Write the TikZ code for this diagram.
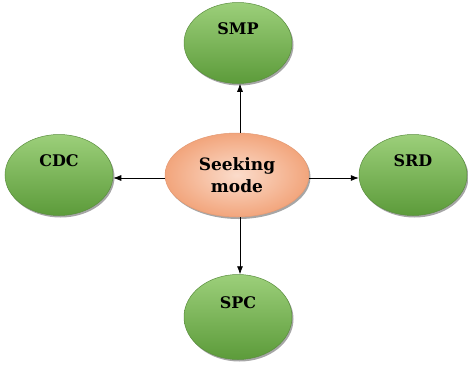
\documentclass[tikz,border=0pt]{standalone}
\usepackage{fontspec}
\setmainfont{DejaVu Serif}
\usetikzlibrary{shapes.geometric,shadows,arrows.meta}
\definecolor{gtop}{HTML}{9CCF7A}
\definecolor{gbot}{HTML}{5C9B3A}
\definecolor{gline}{HTML}{5A8E3E}
\definecolor{pin}{HTML}{FBDCCB}
\definecolor{pout}{HTML}{F2A57C}
\definecolor{pline}{HTML}{E39A74}
\tikzset{
  leaf/.style={ellipse, draw=gline, line width=0.5pt, top color=gtop, bottom color=gbot,
    minimum width=108pt, minimum height=81pt, inner sep=0pt,
    font=\bfseries\fontsize{16}{19}\selectfont, text depth=28pt,
    drop shadow={shadow xshift=1.5pt, shadow yshift=-2pt, opacity=0.35, fill=black}},
  hub/.style={ellipse, draw=pline, line width=0.5pt, inner color=pin, outer color=pout,
    minimum width=144pt, minimum height=84pt, inner sep=0pt, align=center,
    font=\bfseries\fontsize{17}{22}\selectfont,
    drop shadow={shadow xshift=1.5pt, shadow yshift=-2pt, opacity=0.35, fill=black}},
  link/.style={-{Latex[length=8pt,width=6pt]}, line width=0.7pt, black}
}
\begin{document}
\begin{tikzpicture}[x=1pt,y=-1pt]
\useasboundingbox (0,0) rectangle (468,367);
\node[hub] (hub) at (237,175) {Seeking\\mode};
\node[leaf] (smp) at (238,43) {SMP};
\node[leaf] (cdc) at (59,175) {CDC};
\node[leaf] (srd) at (413,175) {SRD};
\node[leaf, minimum height=85pt] (spc) at (238,317) {SPC};
\draw[link] ([xshift=3pt]hub.north) -- ([xshift=3pt]hub.north |- smp.south);
\draw[link] ([xshift=3pt]hub.south) -- ([xshift=3pt]hub.south |- spc.north);
\draw[link] ([yshift=-3pt]hub.west) -- ([yshift=-3pt]hub.west -| cdc.east);
\draw[link] ([yshift=-3pt]hub.east) -- ([yshift=-3pt]hub.east -| srd.west);
\end{tikzpicture}
\end{document}
